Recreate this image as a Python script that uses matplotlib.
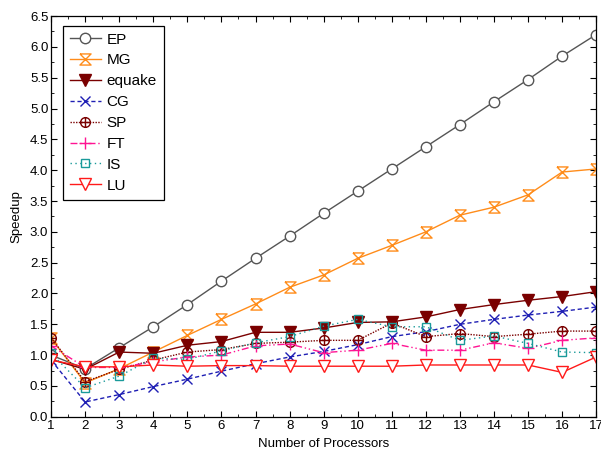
import matplotlib
matplotlib.use("Agg")

import matplotlib.pyplot as plt
from matplotlib.path import Path
from matplotlib.ticker import MultipleLocator

plt.rcParams["font.family"] = ["Liberation Sans", "DejaVu Sans"]

procs = list(range(1, 18))

ep = [1.0, 0.78, 1.12, 1.46, 1.82, 2.2, 2.57, 2.93, 3.3, 3.66, 4.02, 4.38, 4.74, 5.11, 5.47, 5.85, 6.2]
mg = [1.27, 0.55, 0.78, 1.05, 1.32, 1.58, 1.83, 2.1, 2.3, 2.57, 2.78, 3.0, 3.27, 3.4, 3.6, 3.97, 4.02]
equake = [0.93, 0.77, 1.05, 1.03, 1.16, 1.22, 1.37, 1.37, 1.44, 1.53, 1.54, 1.62, 1.74, 1.82, 1.89, 1.95, 2.03]
cg = [0.92, 0.24, 0.36, 0.49, 0.61, 0.74, 0.86, 0.97, 1.06, 1.17, 1.3, 1.38, 1.5, 1.58, 1.65, 1.71, 1.78]
sp = [1.28, 0.57, 0.77, 0.92, 1.05, 1.09, 1.19, 1.21, 1.24, 1.24, 1.52, 1.3, 1.35, 1.3, 1.34, 1.39, 1.39]
ft = [1.15, 0.8, 0.8, 0.89, 0.97, 1.0, 1.15, 1.18, 1.04, 1.08, 1.19, 1.08, 1.08, 1.2, 1.11, 1.24, 1.28]
is_ = [1.03, 0.47, 0.66, 0.95, 0.93, 1.07, 1.2, 1.3, 1.47, 1.58, 1.46, 1.46, 1.24, 1.31, 1.19, 1.05, 1.04]
lu = [0.92, 0.81, 0.81, 0.84, 0.82, 0.83, 0.83, 0.82, 0.82, 0.82, 0.82, 0.84, 0.84, 0.84, 0.84, 0.72, 0.97]

# hourglass marker (X closed top and bottom) for MG
hourglass = Path([(-1, 1), (1, 1), (-1, -1), (1, -1), (-1, 1)],
                 [Path.MOVETO, Path.LINETO, Path.LINETO, Path.LINETO, Path.LINETO])
# circle with a cross inside for SP
cross = Path([(-1, 0), (1, 0), (0, -1), (0, 1)],
             [Path.MOVETO, Path.LINETO, Path.MOVETO, Path.LINETO])
oplus = Path.make_compound_path(Path.unit_circle(), cross)

fig = plt.figure(figsize=(6.01, 4.59), dpi=100)
ax = fig.add_axes([0.085, 0.092, 0.907, 0.873])

ax.plot(procs, ep, color="#555555", lw=1.0, marker="o", ms=7.5, mfc="white", mec="#555555", mew=1.0, label="EP")
ax.plot(procs, mg, color="#ff8c1a", lw=1.0, marker=hourglass, ms=8, mfc="none", mec="#ff8c1a", mew=1.0, label="MG")
ax.plot(procs, equake, color="#7a0000", lw=1.0, marker="v", ms=8, mfc="#7a0000", mec="#7a0000", label="equake")
ax.plot(procs, cg, color="#1f1fb4", lw=1.0, ls=(0, (3, 2)), marker="x", ms=7.5, mew=1.0, label="CG")
ax.plot(procs, sp, color="#7a0000", lw=1.0, ls=(0, (1, 1)), marker=oplus, ms=7, mfc="none", mec="#7a0000", mew=1.0, label="SP")
ax.plot(procs, ft, color="#ff1493", lw=1.0, ls=(0, (5, 2, 1, 2, 1, 2)), marker="+", ms=8, mew=1.0, label="FT")
ax.plot(procs, is_, color="#1a9a9a", lw=1.0, ls=(0, (1, 2.5)), marker="s", ms=6, mfc="none", mec="#1a9a9a", mew=1.0, label="IS")
ax.plot(procs, lu, color="#ff1a1a", lw=1.0, marker="v", ms=8, mfc="white", mec="#ff1a1a", mew=1.0, label="LU")

ax.set_xlim(1, 17)
ax.set_ylim(0, 6.5)
ax.xaxis.set_major_locator(MultipleLocator(1))
ax.xaxis.set_minor_locator(MultipleLocator(0.5))
ax.yaxis.set_major_locator(MultipleLocator(0.5))
ax.yaxis.set_minor_locator(MultipleLocator(0.25))
ax.set_yticklabels([f"{v:.1f}" for v in ax.get_yticks()])
ax.tick_params(which="both", direction="in", top=True, right=True, labelsize=9.5, pad=2)
ax.tick_params(which="major", length=4)
ax.tick_params(which="minor", length=2)
for s in ax.spines.values():
    s.set_linewidth(0.9)

ax.set_xlabel("Number of Processors", fontsize=9.5, labelpad=5)
ax.set_ylabel("Speedup", fontsize=9.5, labelpad=5)

leg = ax.legend(loc="upper left", bbox_to_anchor=(0.008, 0.995), fontsize=11,
                frameon=True, fancybox=False, edgecolor="black", framealpha=1,
                handlelength=2.0, labelspacing=0.45, borderpad=0.45, handletextpad=0.4)
leg.get_frame().set_linewidth(0.9)

fig.savefig("out.png", dpi=100)
